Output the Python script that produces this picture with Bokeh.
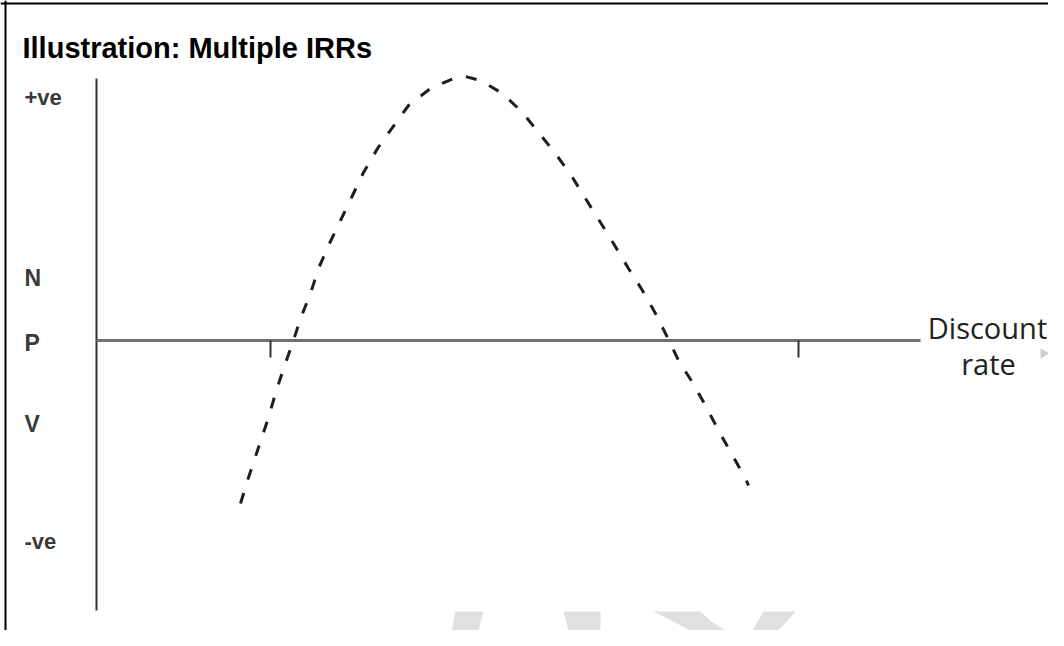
from bokeh.plotting import figure
from bokeh.models import Range1d, Span
from bokeh.core.properties import value
from bokeh.embed import file_html
from bokeh.resources import INLINE

# NPV profile (arbitrary units): discount rate vs NPV
rate = [7.2, 7.6, 8.1, 8.55, 8.95, 9.35, 9.8, 10.2, 10.7, 11.1, 11.6, 12.2, 12.8,
        13.35, 14.05, 14.8, 15.6, 16.7, 17.85, 18.45, 19.2, 20.3, 21.3, 22.1,
        22.95, 23.8, 24.45, 25.2, 25.85, 26.6, 27.3, 27.95, 28.55, 29.1, 29.8,
        30.45, 31.1, 31.8, 32.45, 32.6]
npv = [-8.15, -6.85, -5.35, -4.0, -2.65, -1.4, -0.15, 1.1, 2.35, 3.6, 4.75, 6.0,
       7.25, 8.4, 9.6, 10.65, 11.75, 12.6, 13.1, 13.2, 13.0, 12.35, 11.4, 10.4,
       9.35, 8.15, 7.1, 5.9, 4.85, 3.6, 2.5, 1.35, 0.15, -1.0, -2.1, -3.25, -4.5,
       -5.75, -6.9, -7.25]

tick_rates = [8.7, 35.1]
axis_x_end = 41.2
axis_y_top = 13.1
axis_y_bottom = -13.5

y_labels = ["+ve", "N", "P", "V", "-ve"]
y_label_pos = [12.15, 3.15, -0.1, -4.15, -10.05]
y_label_sizes = ["22px", "23px", "23px", "23px", "22px"]

title_text = "Illustration: Multiple IRRs"
x_label_lines = ["Discount", "rate"]

# light grey watermark fragments at the bottom
wm_a_x = [17.95, 19.35, 19.1, 19.35, 17.85, 17.75]
wm_a_y = [-13.55, -13.55, -14.5, -15.25, -15.25, -14.5]
wm_b_x = [23.35, 25.2, 25.2, 23.8]
wm_b_y = [-13.55, -13.55, -15.25, -15.25]
wm_c_x = [27.85, 30.2, 30.8, 31.5, 32.2, 32.8, 33.35, 34.95, 34.3, 33.05, 31.55, 29.7]
wm_c_y = [-13.55, -13.55, -14.1, -14.5, -14.65, -14.5, -13.55, -13.55, -14.3,
          -15.25, -15.25, -14.5]

W, H = 1048, 630
p = figure(width=W, height=H, output_backend="svg", toolbar_location=None,
           x_range=Range1d(-4.8, 47.6), y_range=Range1d(-14.5, 17.0),
           x_axis_location=None, y_axis_location=None, min_border=0,
           outline_line_color=None, background_fill_color="white")
p.xgrid.visible = False
p.ygrid.visible = False

# frame border (left and top)
p.add_layout(Span(location=-4.55, dimension="height", line_color="black", line_width=2))
p.add_layout(Span(location=16.85, dimension="width", line_color="black", line_width=2))

# watermark
p.patch(wm_a_x, wm_a_y, color="#e0e0e0", line_width=0)
p.patch(wm_b_x, wm_b_y, color="#e0e0e0", line_width=0)
p.patch(wm_c_x, wm_c_y, color="#e0e0e0", line_width=0)

# axes
p.line([0, 0], [axis_y_bottom, axis_y_top], line_color="#333333", line_width=2)
p.line([0, axis_x_end], [0, 0], line_color="#707070", line_width=3)
p.segment(x0=tick_rates, y0=[0] * len(tick_rates), x1=tick_rates,
          y1=[-0.85] * len(tick_rates), line_color="#333333", line_width=2)

# NPV curve
p.line(rate, npv, line_color="#1e1e1e", line_width=3, line_dash="11 14")

# labels
p.text(x=[-3.7], y=[14.65], text=[title_text], text_font=value("Liberation Sans"),
       text_font_size="29px", text_font_style="bold", text_color="black",
       text_baseline="alphabetic", text_align="left")
for lab, yy, sz in zip(y_labels, y_label_pos, y_label_sizes):
    p.text(x=[-3.6], y=[yy], text=[lab], text_font=value("Liberation Sans"),
           text_font_size=sz, text_font_style="bold", text_color="#3a3a3a",
           text_baseline="alphabetic", text_align="left")
p.text(x=[44.55, 44.6], y=[0.65, -1.15], text=x_label_lines,
       text_font=value("Open Sans"), text_font_size="29px", text_color="#222222",
       text_baseline="alphabetic", text_align="center")
p.scatter(x=[47.35], y=[-0.65], marker="triangle", size=10, angle=-1.5708,
          color="#cccccc", line_width=0)

open("out.html", "w").write(file_html(p, INLINE))
